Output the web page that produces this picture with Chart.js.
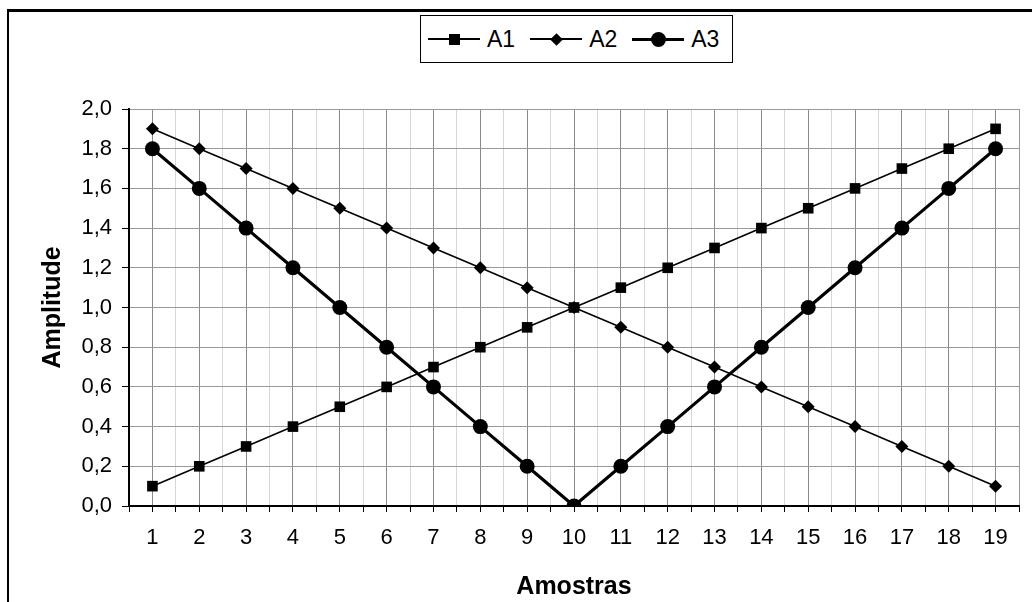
<!DOCTYPE html>
<html>
<head>
<meta charset="utf-8">
<script src="https://cdn.jsdelivr.net/npm/chart.js@4"></script>
<style>
  html, body { margin: 0; padding: 0; background: #fff; }
  #wrap { position: relative; width: 1032px; height: 602px; overflow: hidden; }
  #frame { position: absolute; left: 7px; top: 9px; width: 1100px; height: 700px;
           border-left: 2px solid #000; border-top: 3px solid #000; }
  #chartBox { position: absolute; left: 0; top: 0; width: 1032px; height: 602px; }
  #legend { position: absolute; left: 420px; top: 15px; width: 311px; height: 46px;
            border: 1px solid #000; background: #fff; display: flex; align-items: center;
            font: 23px "Liberation Sans", Arial, sans-serif; color: #000; }
  .item { display: flex; align-items: center; margin-left: 7px; margin-right: 8px; }
  .sample { position: relative; width: 52px; height: 16px; margin-right: 7px; }
  .sample .ln { position: absolute; left: 0; right: 0; top: 50%; background: #000; }
  .sample .mk { position: absolute; left: 50%; top: 50%; background: #000; }
</style>
</head>
<body>
<div id="wrap">
  <div id="frame"></div>
  <div id="chartBox"><canvas id="chart"></canvas></div>
  <div id="legend"></div>
</div>
<script>
// categories (Amostras) and the three series
const categories = ["1","2","3","4","5","6","7","8","9","10","11","12","13","14","15","16","17","18","19"];
const a1 = [0.1, 0.2, 0.3, 0.4, 0.5, 0.6, 0.7, 0.8, 0.9, 1.0, 1.1, 1.2, 1.3, 1.4, 1.5, 1.6, 1.7, 1.8, 1.9];
const a2 = [1.9, 1.8, 1.7, 1.6, 1.5, 1.4, 1.3, 1.2, 1.1, 1.0, 0.9, 0.8, 0.7, 0.6, 0.5, 0.4, 0.3, 0.2, 0.1];
const a3 = [1.8, 1.6, 1.4, 1.2, 1.0, 0.8, 0.6, 0.4, 0.2, 0.0, 0.2, 0.4, 0.6, 0.8, 1.0, 1.2, 1.4, 1.6, 1.8];
const seriesNames = ["A1", "A2", "A3"];
const yMin = 0, yMax = 2, yStep = 0.2;

const FONT = '"Liberation Sans", Arial, sans-serif';

function toPoints(vals) {
  return categories.map((c, i) => ({ x: Number(c), y: vals[i] }));
}

// x ticks at every category and every boundary between categories
function xTickValues() {
  const out = [];
  categories.forEach(c => { out.push(Number(c) - 0.5); out.push(Number(c)); });
  out.push(Number(categories[categories.length - 1]) + 0.5);
  return out;
}

const xFirst = Number(categories[0]) - 0.5;
const xLast = Number(categories[categories.length - 1]) + 0.5;

const chart = new Chart(document.getElementById("chart"), {
  type: "line",
  data: {
    datasets: [
      { label: seriesNames[0], data: toPoints(a1), borderColor: "#000", backgroundColor: "#000",
        borderWidth: 1.6, pointStyle: "rect", pointRadius: 7.5, pointBorderWidth: 0 },
      { label: seriesNames[1], data: toPoints(a2), borderColor: "#000", backgroundColor: "#000",
        borderWidth: 1.6, pointStyle: "rectRot", pointRadius: 6.5, pointBorderWidth: 0 },
      { label: seriesNames[2], data: toPoints(a3), borderColor: "#000", backgroundColor: "#000",
        borderWidth: 3.2, pointStyle: "circle", pointRadius: 7.5, pointBorderWidth: 0 }
    ]
  },
  options: {
    responsive: true,
    maintainAspectRatio: false,
    devicePixelRatio: 1,
    animation: false,
    layout: { padding: { top: 109, right: 4, left: 0, bottom: 0 } },
    plugins: { legend: { display: false }, tooltip: { enabled: false } },
    scales: {
      x: {
        type: "linear",
        min: xFirst, max: xLast,
        afterBuildTicks: s => { s.ticks = xTickValues().map(v => ({ value: v })); },
        afterFit: s => { s.height = 96; },
        ticks: {
          autoSkip: false, maxRotation: 0, padding: 13, color: "#000",
          font: { family: FONT, size: 22 },
          callback: v => Number.isInteger(v) ? String(v) : ""
        },
        grid: {
          color: c => {
            const v = c.tick ? c.tick.value : 0;
            if (v === xLast) return "#999";
            return Number.isInteger(v) ? "#8a8a8a" : "#d6d6d6";
          },
          tickColor: "#000", tickLength: 6, lineWidth: 1
        },
        border: { color: "#000", width: 2 },
        title: { display: true, text: "Amostras", color: "#000",
                 font: { family: FONT, size: 25, weight: "bold" }, padding: { bottom: 0 } }
      },
      y: {
        min: yMin, max: yMax,
        afterFit: s => { s.width = 129; },
        ticks: {
          stepSize: yStep, padding: 10, color: "#000",
          font: { family: FONT, size: 22 },
          callback: v => Number(v).toFixed(1).replace(".", ",")
        },
        grid: { color: "#999", tickColor: "#000", tickLength: 7, lineWidth: 1 },
        border: { color: "#000", width: 2 },
        title: { display: true, text: "Amplitude", color: "#000",
                 font: { family: FONT, size: 25, weight: "bold" }, padding: { top: 38 } }
      }
    }
  }
});

// legend: line sample with marker, then the series name
const legendEl = document.getElementById("legend");
const markers = [
  { w: 11, h: 11, r: "0", rot: 0, line: 2 },
  { w: 9, h: 9, r: "0", rot: 45, line: 2 },
  { w: 15, h: 15, r: "50%", rot: 0, line: 3 }
];
seriesNames.forEach((name, i) => {
  const m = markers[i];
  const item = document.createElement("div");
  item.className = "item";
  item.innerHTML =
    `<div class="sample"><div class="ln" style="height:${m.line}px;margin-top:-${m.line / 2}px"></div>` +
    `<div class="mk" style="width:${m.w}px;height:${m.h}px;margin-left:-${m.w / 2}px;margin-top:-${m.h / 2}px;` +
    `border-radius:${m.r};transform:rotate(${m.rot}deg)"></div></div><span>${name}</span>`;
  legendEl.appendChild(item);
});
</script>
</body>
</html>
